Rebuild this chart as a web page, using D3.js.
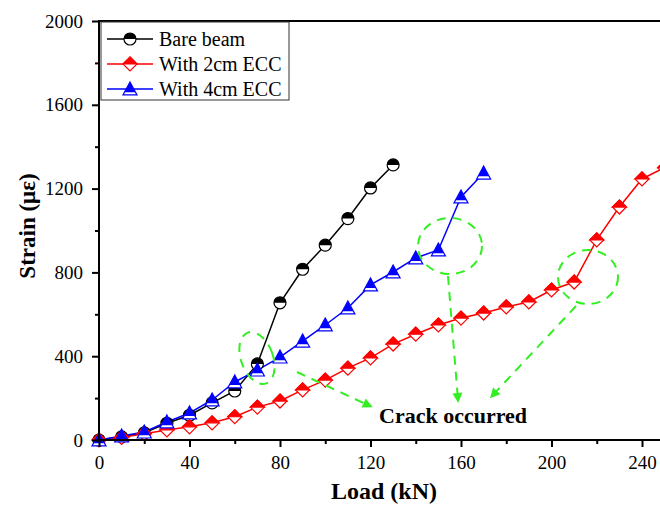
<!DOCTYPE html>
<html>
<head>
<meta charset="utf-8">
<script src="https://cdn.jsdelivr.net/npm/d3@7"></script>
<style>
  body { margin: 0; background: #fff; }
  svg { display: block; font-family: 'Liberation Serif', 'Times New Roman', serif; }
</style>
</head>
<body>
<svg id="chart"></svg>
<script>
// data
const bareLoad = [0, 10, 20, 30, 40, 50, 60, 70, 80, 90, 100, 110, 120, 130]
const bareStrain = [0, 15, 34, 80, 118, 177, 234, 363, 655, 815, 930, 1057, 1203, 1313]

const ecc2Load = [0, 10, 20, 30, 40, 50, 60, 70, 80, 90, 100, 110, 120, 130, 140, 150, 160, 170, 180, 190, 200, 210, 220, 230, 240, 250]
const ecc2Strain = [0, 12, 30, 48, 63, 82, 111, 157, 186, 239, 286, 343, 392, 458, 505, 549, 582, 606, 635, 659, 716, 754, 955, 1112, 1246, 1300]

const ecc4Load = [0, 10, 20, 30, 40, 50, 60, 70, 80, 90, 100, 110, 120, 130, 140, 150, 160, 170]
const ecc4Strain = [0, 19, 38, 86, 129, 191, 277, 334, 396, 472, 549, 630, 740, 802, 869, 907, 1160, 1274]

const seriesNames = ['Bare beam', 'With 2cm ECC', 'With 4cm ECC']
const xTicks = [0, 40, 80, 120, 160, 200, 240]
const yTicks = [0, 400, 800, 1200, 1600, 2000]

const width = 660
const height = 510
const svg = d3.select('#chart').attr('width', width).attr('height', height)

const x = d3.scaleLinear().domain([0, 250]).range([99, 99 + 250 * 2.2625])
const y = d3.scaleLinear().domain([0, 2000]).range([440, 21])

const series = [
  { name: seriesNames[0], color: '#000', shape: 'circle', pts: bareLoad.map((l, i) => [l, bareStrain[i]]) },
  { name: seriesNames[1], color: '#ff0000', shape: 'diamond', pts: ecc2Load.map((l, i) => [l, ecc2Strain[i]]) },
  { name: seriesNames[2], color: '#0000ff', shape: 'triangle', pts: ecc4Load.map((l, i) => [l, ecc4Strain[i]]) }
]

svg.append('defs').append('clipPath').attr('id', 'plot-clip')
  .append('rect').attr('x', 90).attr('y', 10).attr('width', 570).attr('height', 440)

// half filled markers
function drawMarker (g, shape, color, cx, cy) {
  const m = g.append('g').attr('transform', `translate(${cx},${cy})`)
  if (shape === 'circle') {
    const r = 6
    m.append('circle').attr('r', r).attr('fill', '#fff').attr('stroke', color).attr('stroke-width', 1.2)
    m.append('path').attr('d', `M${-r},0A${r},${r} 0 0 1 ${r},0Z`).attr('fill', color)
  } else if (shape === 'diamond') {
    const r = 7
    m.append('path').attr('d', `M0,${-r}L${r},0L0,${r}L${-r},0Z`).attr('fill', '#fff').attr('stroke', color).attr('stroke-width', 1.2)
    m.append('path').attr('d', `M0,${-r}L${r},0L${-r},0Z`).attr('fill', color).attr('stroke', color).attr('stroke-width', 1.2)
  } else {
    const r = 7
    m.append('path').attr('d', `M0,${-r}L${r},${r * 0.85}L${-r},${r * 0.85}Z`).attr('fill', '#fff').attr('stroke', color).attr('stroke-width', 1.2)
    m.append('path').attr('d', `M0,${-r}L${r * 0.75},${r * 0.45}L${-r * 0.75},${r * 0.45}Z`).attr('fill', color)
  }
}

const plot = svg.append('g').attr('clip-path', 'url(#plot-clip)')

// crack annotations
const green = '#33ee22'
const ann = svg.append('g').attr('fill', 'none').attr('stroke', green).attr('stroke-width', 2).attr('stroke-dasharray', '9,7')
ann.append('ellipse').attr('cx', 257).attr('cy', 358).attr('rx', 16).attr('ry', 27).attr('transform', 'rotate(-20,257,358)')
ann.append('ellipse').attr('cx', 450).attr('cy', 246).attr('rx', 32).attr('ry', 28)
ann.append('ellipse').attr('cx', 588).attr('cy', 277).attr('rx', 30).attr('ry', 27)

const arrows = [
  [[297, 372], [370, 406]],
  [[448, 276], [458, 400]],
  [[576, 306], [492, 396]]
]
arrows.forEach(([a, b]) => {
  ann.append('line').attr('x1', a[0]).attr('y1', a[1]).attr('x2', b[0]).attr('y2', b[1])
  const ang = Math.atan2(b[1] - a[1], b[0] - a[0])
  const L = 10
  const W = 5
  const p1 = [b[0] + Math.cos(ang) * 3, b[1] + Math.sin(ang) * 3]
  const bx = p1[0] - Math.cos(ang) * L
  const by = p1[1] - Math.sin(ang) * L
  svg.append('path')
    .attr('d', `M${p1[0]},${p1[1]}L${bx - Math.sin(ang) * W},${by + Math.cos(ang) * W}L${bx + Math.sin(ang) * W},${by - Math.cos(ang) * W}Z`)
    .attr('fill', green)
})

svg.append('text').attr('x', 379).attr('y', 423)
  .attr('font-size', 22).attr('font-weight', 'bold').text('Crack occurred')

const line = d3.line().x(d => x(d[0])).y(d => y(d[1]))
series.forEach(s => {
  plot.append('path').datum(s.pts).attr('d', line)
    .attr('fill', 'none').attr('stroke', s.color).attr('stroke-width', 1.5)
})
series.forEach(s => {
  s.pts.forEach(p => drawMarker(plot, s.shape, s.color, x(p[0]), y(p[1])))
})

// axes
const xAxis = d3.axisBottom(x).tickValues(xTicks).tickSize(7).tickPadding(9).tickFormat(d3.format('d'))
const xMinor = d3.axisBottom(x).tickValues(d3.range(20, 250, 40)).tickSize(4).tickFormat('')
const yAxis = d3.axisLeft(y).tickValues(yTicks).tickSize(7).tickPadding(9).tickFormat(d3.format('d'))
const yMinor = d3.axisLeft(y).tickValues(d3.range(200, 2000, 400)).tickSize(4).tickFormat('')

function styleAxis (g) {
  g.select('.domain').remove()
  g.selectAll('line').attr('stroke', '#000').attr('stroke-width', 2)
  g.selectAll('text').attr('font-size', 19).attr('font-family', 'Liberation Serif').attr('fill', '#000')
}
svg.append('g').attr('transform', 'translate(0,440)').call(xAxis).call(styleAxis)
svg.append('g').attr('transform', 'translate(0,440)').call(xMinor).call(styleAxis)
svg.append('g').attr('transform', 'translate(99,0)').call(yAxis).call(styleAxis)
svg.append('g').attr('transform', 'translate(99,0)').call(yMinor).call(styleAxis)

svg.append('line').attr('x1', 99).attr('x2', 660).attr('y1', 440).attr('y2', 440).attr('stroke', '#000').attr('stroke-width', 2)
svg.append('line').attr('x1', 99).attr('x2', 660).attr('y1', 21).attr('y2', 21).attr('stroke', '#000').attr('stroke-width', 2)
svg.append('line').attr('x1', 99).attr('x2', 99).attr('y1', 20).attr('y2', 441).attr('stroke', '#000').attr('stroke-width', 2)

svg.append('text').attr('x', 384).attr('y', 499).attr('text-anchor', 'middle')
  .attr('font-size', 24).attr('font-weight', 'bold').text('Load (kN)')
svg.append('text').attr('transform', 'translate(35,226) rotate(-90)').attr('text-anchor', 'middle')
  .attr('font-size', 23).attr('font-weight', 'bold').text('Strain (με)')

// legend
const legend = svg.append('g')
legend.append('rect').attr('x', 101).attr('y', 22).attr('width', 188).attr('height', 78)
  .attr('fill', '#fff').attr('stroke', '#333').attr('stroke-width', 1)
series.forEach((s, i) => {
  const ly = 39 + i * 25
  legend.append('line').attr('x1', 107).attr('x2', 153).attr('y1', ly).attr('y2', ly)
    .attr('stroke', s.color).attr('stroke-width', 1.5)
  drawMarker(legend, s.shape, s.color, 130, ly)
  legend.append('text').attr('x', 159).attr('y', ly + 7).attr('font-size', 20).text(s.name)
})
</script>
</body>
</html>
